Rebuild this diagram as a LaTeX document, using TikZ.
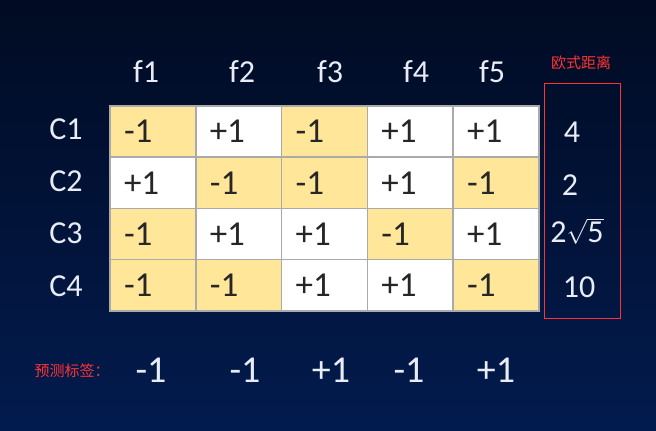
\documentclass[tikz,border=0pt]{standalone}
\usepackage{fontspec}
\setmainfont{Carlito}
\newfontfamily\cjk{Noto Sans CJK SC}
\usepackage{xcolor}
\usepackage{tikz}
\definecolor{bgtop}{RGB}{1,11,35}
\definecolor{bgbot}{RGB}{2,27,78}
\definecolor{cellyel}{RGB}{255,230,153}
\definecolor{cellgrid}{RGB}{170,170,170}
\definecolor{lbltxt}{RGB}{232,236,245}
\definecolor{redmark}{RGB}{255,51,51}
\tikzset{
  cell/.style={draw=cellgrid, line width=1.5pt, minimum height=51.2pt,
    text width=57.8pt, inner xsep=14pt, inner ysep=0pt, align=left,
    text=black!85, font=\fontsize{35}{40}\selectfont},
  yel/.style={cell, fill=cellyel},
  wht/.style={cell, fill=white},
  hdr/.style={text=lbltxt, inner sep=0pt, font=\fontsize{32}{36}\selectfont},
  pred/.style={text=lbltxt, inner sep=0pt, font=\fontsize{38}{42}\selectfont},
  redlbl/.style={text=redmark, inner sep=0pt, font=\cjk\fontsize{15}{18}\selectfont}
}
\begin{document}
\begin{tikzpicture}[x=1pt,y=1pt]
            \shade [top color=bgtop, bottom color=bgbot] (0,0) rectangle (656,-431);
            \useasboundingbox (0,0) rectangle (656,-431);
            % column heads
            \node [hdr] (f1) at (146,-72) {f1};
            \node [hdr] (f2) at (242,-72) {f2};
            \node [hdr] (f3) at (330,-72) {f3};
            \node [hdr] (f4) at (416,-72) {f4};
            \node [hdr] (f5) at (492,-72) {f5};
            % row heads
            \node [hdr] (C1) at (66,-129) {C1};
            \node [hdr] (C2) at (66,-181) {C2};
            \node [hdr] (C3) at (66,-233) {C3};
            \node [hdr] (C4) at (66,-286) {C4};
            % row C1
            \node [yel] (c11) at (152.9,-131.6) {-1};
            \node [wht] (c12) at (238.7,-131.6) {+1};
            \node [yel] (c13) at (324.5,-131.6) {-1};
            \node [wht] (c14) at (410.3,-131.6) {+1};
            \node [wht] (c15) at (496.1,-131.6) {+1};
            % row C2
            \node [wht] (c21) at (152.9,-182.8) {+1};
            \node [yel] (c22) at (238.7,-182.8) {-1};
            \node [yel] (c23) at (324.5,-182.8) {-1};
            \node [wht] (c24) at (410.3,-182.8) {+1};
            \node [yel] (c25) at (496.1,-182.8) {-1};
            % row C3
            \node [yel] (c31) at (152.9,-234) {-1};
            \node [wht] (c32) at (238.7,-234) {+1};
            \node [wht] (c33) at (324.5,-234) {+1};
            \node [yel] (c34) at (410.3,-234) {-1};
            \node [wht] (c35) at (496.1,-234) {+1};
            % row C4
            \node [yel] (c41) at (152.9,-285.2) {-1};
            \node [yel] (c42) at (238.7,-285.2) {-1};
            \node [wht] (c43) at (324.5,-285.2) {+1};
            \node [wht] (c44) at (410.3,-285.2) {+1};
            \node [yel] (c45) at (496.1,-285.2) {-1};
            % distances
            \node [redlbl] (dhead) at (581,-63) {欧式距离};
            \draw [redmark, line width=1pt] (544,-83) rectangle (620,-318);
            \node [hdr] (d1) at (572,-132) {4};
            \node [hdr] (d2) at (570,-185) {2};
            \node [hdr] (d3) at (577,-232) {2\smash{$\sqrt{\mbox{5}}$}};
            \node [hdr] (d4) at (579,-287) {10};
            % predicted labels
            \node [redlbl] (phead) at (72,-371) {预测标签：};
            \node [pred] (p1) at (151,-370) {-1};
            \node [pred] (p2) at (245,-370) {-1};
            \node [pred] (p3) at (331,-370) {+1};
            \node [pred] (p4) at (409,-370) {-1};
            \node [pred] (p5) at (496,-370) {+1};
        \end{tikzpicture}
\end{document}
